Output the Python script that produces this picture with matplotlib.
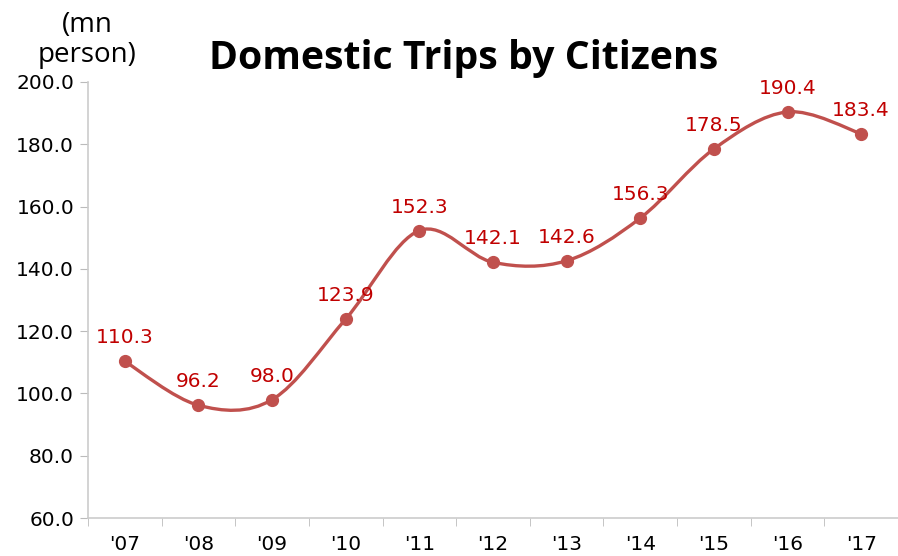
import numpy as np
import matplotlib
matplotlib.use("Agg")
import matplotlib.pyplot as plt
from matplotlib.path import Path
from matplotlib.patches import PathPatch

years = ["'07", "'08", "'09", "'10", "'11", "'12", "'13", "'14", "'15", "'16", "'17"]
trips = [110.3, 96.2, 98.0, 123.9, 152.3, 142.1, 142.6, 156.3, 178.5, 190.4, 183.4]

line_col = '#C0504D'
lab_col = '#C00000'

fig = plt.figure(figsize=(8.98, 5.56), dpi=100)
ax = fig.add_axes([88/898, 1-518/556, 1-88/898, (518-82)/556])

x = np.arange(len(trips))
y = np.array(trips)

# smooth curve like the spreadsheet (catmull-rom as bezier segments)
verts = [(x[0], y[0])]
codes = [Path.MOVETO]
for i in range(len(x)-1):
    p0 = (x[i-1], y[i-1]) if i > 0 else (x[i], y[i])
    p1 = (x[i], y[i])
    p2 = (x[i+1], y[i+1])
    p3 = (x[i+2], y[i+2]) if i+2 < len(x) else (x[i+1], y[i+1])
    c1 = (p1[0] + (p2[0]-p0[0])/6, p1[1] + (p2[1]-p0[1])/6)
    c2 = (p2[0] - (p3[0]-p1[0])/6, p2[1] - (p3[1]-p1[1])/6)
    verts += [c1, c2, p2]
    codes += [Path.CURVE4]*3
ax.add_patch(PathPatch(Path(verts, codes), fill=False, edgecolor=line_col, lw=2.4))
ax.plot(x, y, 'o', color=line_col, ms=8.5, zorder=3)

for xi, yi in zip(x, y):
    ax.annotate(f'{yi:.1f}', (xi, yi), xytext=(0, 10), textcoords='offset points',
                ha='center', va='bottom', color=lab_col, fontsize=14.5)

ax.set_xlim(-0.5, len(x)-0.5)
ax.set_ylim(60, 200)
ax.set_yticks(np.arange(60, 201, 20))
ax.set_yticklabels([f'{v:.1f}' for v in np.arange(60, 201, 20)], fontsize=14.5)
ax.set_xticks(x)
ax.set_xticklabels(years, fontsize=14.5)
ax.set_xticks(np.arange(-0.5, len(x)), minor=True)
ax.tick_params(axis='x', which='major', length=0, pad=12)
ax.tick_params(axis='x', which='minor', length=6, color='#BBBBBB', direction='out')
ax.tick_params(axis='y', length=6, color='#BBBBBB', pad=4)
for s in ['top', 'right']:
    ax.spines[s].set_visible(False)
for s in ['left', 'bottom']:
    ax.spines[s].set_color('#CCCCCC')
    ax.spines[s].set_linewidth(1.2)

fig.text(464/898, 1-58/556, 'Domestic Trips by Citizens', ha='center', va='center',
         fontsize=28.3, fontweight='bold', family='Open Sans')
fig.text(87/898, 1-40/556, '(mn\nperson)', ha='center', va='center',
         fontsize=20, family='Open Sans', linespacing=1.05)

fig.savefig('out.png', dpi=100)
